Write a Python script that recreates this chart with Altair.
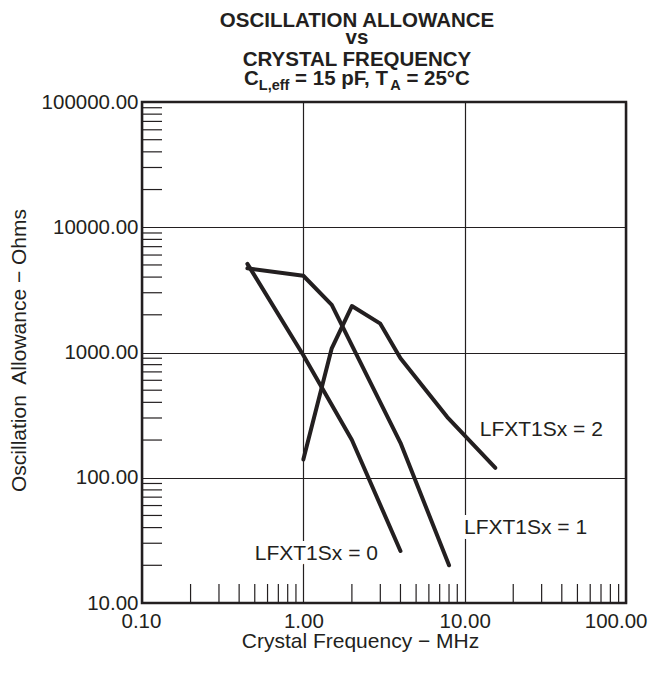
import altair as alt
import pandas as pd

INK = "#231f20"
FONT = "Liberation Sans"

# ---- data ----
s0_x = [0.45, 1.0, 2.0, 4.0]
s0_y = [5100, 950, 200, 26]
s1_x = [0.45, 1.0, 1.5, 4.0, 8.0]
s1_y = [4700, 4100, 2400, 190, 20]
s2_x = [1.0, 1.5, 2.0, 3.0, 4.0, 7.8, 15.5]
s2_y = [140, 1080, 2350, 1700, 900, 305, 120]

series_names = ["LFXT1Sx = 0", "LFXT1Sx = 1", "LFXT1Sx = 2"]
label_x = [0.5, 9.9, 12.4]
label_y = [24.6, 39.5, 240]

x_ticks = [0.1, 1, 10, 100]
y_ticks = [10, 100, 1000, 10000, 100000]
minor_mult = [2, 3, 4, 5, 6, 7, 8, 9]
x_decades = [0.1, 1, 10]
y_decades = [10, 100, 1000, 10000]

title_lines = ["OSCILLATION ALLOWANCE", "vs", "CRYSTAL FREQUENCY"]
title_sub_parts = ["C", "L,eff", "= 15 pF, T", "A", "= 25°C"]
x_title = "Crystal Frequency \u2212 MHz"
y_title = "Oscillation\u00a0 Allowance \u2212 Ohms"

# ---- tables ----
rows = []
for name, xs, ys in zip(series_names, [s0_x, s1_x, s2_x], [s0_y, s1_y, s2_y]):
    for i, (a, b) in enumerate(zip(xs, ys)):
        rows.append({"series": name, "i": i, "x": a, "y": b})
lines_df = pd.DataFrame(rows)
labels_df = pd.DataFrame({"t": series_names, "x": label_x, "y": label_y})
xminor_df = pd.DataFrame({"v": [m * d for d in x_decades for m in minor_mult]})
yminor_df = pd.DataFrame({"v": [m * d for d in y_decades for m in minor_mult]})

W, H = 484, 501

xs_scale = alt.Scale(type="log", domain=[0.1, 100], nice=False)
ys_scale = alt.Scale(type="log", domain=[10, 100000], nice=False)

x_axis = alt.Axis(values=x_ticks, format=".2f", grid=True, labelFlush=1,
                  labelFlushOffset=21,
                  labelOverlap=False, labelPadding=8, title=x_title,
                  titleX=218, titleY=44.5, titleBaseline="alphabetic", titleAlign="center")
y_axis = alt.Axis(values=y_ticks, format=".2f", grid=True, labelFlush=False,
                  labelOverlap=False, labelPadding=4, title=y_title,
                  titleX=-116.5, titleY=248, titleBaseline="alphabetic",
                  titleAlign="center", titleAngle=270)


def X(f):
    return alt.X(f, type="quantitative", scale=xs_scale, axis=x_axis)


def Y(f):
    return alt.Y(f, type="quantitative", scale=ys_scale, axis=y_axis)


lines = alt.Chart(lines_df).mark_line(
    color=INK, strokeWidth=4, strokeCap="round", strokeJoin="round"
).encode(x=X("x"), y=Y("y"), detail="series:N", order="i:Q")

xminor = alt.Chart(xminor_df).mark_rule(color=INK, strokeWidth=1.2).encode(
    x=X("v"), y=alt.value(H - 19), y2=alt.value(H)
)
yminor = alt.Chart(yminor_df).mark_rule(color=INK, strokeWidth=1.2).encode(
    y=Y("v"), x=alt.value(0), x2=alt.value(20)
)

halo = alt.Chart(labels_df).mark_text(
    align="left", baseline="middle", font=FONT, fontSize=21,
    color="white", stroke="white", strokeWidth=10, strokeJoin="round"
).encode(x=X("x"), y=Y("y"), text="t:N")
labels = alt.Chart(labels_df).mark_text(
    align="left", baseline="middle", font=FONT, fontSize=21, color=INK
).encode(x=X("x"), y=Y("y"), text="t:N")

title_layers = []
title_y = [-75, -58.5, -36]
for txt, ty in zip(title_lines, title_y):
    title_layers.append(
        alt.Chart(pd.DataFrame({"t": [txt]})).mark_text(
            align="center", baseline="alphabetic", font=FONT, fontSize=20.5,
            fontWeight="bold", color=INK
        ).encode(x=alt.value(215), y=alt.value(ty), text="t:N")
    )

sub_x = [102, 116.8, 153.1, 248.2, 264.4]
sub_is_small = [False, True, False, True, False]
for txt, px, small in zip(title_sub_parts, sub_x, sub_is_small):
    title_layers.append(
        alt.Chart(pd.DataFrame({"t": [txt]})).mark_text(
            align="left", baseline="alphabetic", font=FONT,
            fontSize=14.5 if small else 20.5, fontWeight="bold", color=INK
        ).encode(x=alt.value(px), y=alt.value(-12 if small else -17), text="t:N")
    )

chart = alt.layer(yminor, xminor, lines, halo, labels, *title_layers).properties(
    width=W, height=H,
    autosize=alt.AutoSizeParams(type="none"),
    padding={"left": 134, "top": 94, "right": 24, "bottom": 56},
).configure_view(
    stroke=INK, strokeWidth=2.5
).configure_axis(
    labelFont=FONT, titleFont=FONT, labelColor=INK, titleColor=INK,
    gridColor=INK, gridWidth=1.2, gridOpacity=1, domain=False, ticks=False,
    labelFontSize=20.5, titleFontSize=21, titleFontWeight="normal"
)

chart.save("out.html", embed_options={"renderer": "svg", "actions": False})
